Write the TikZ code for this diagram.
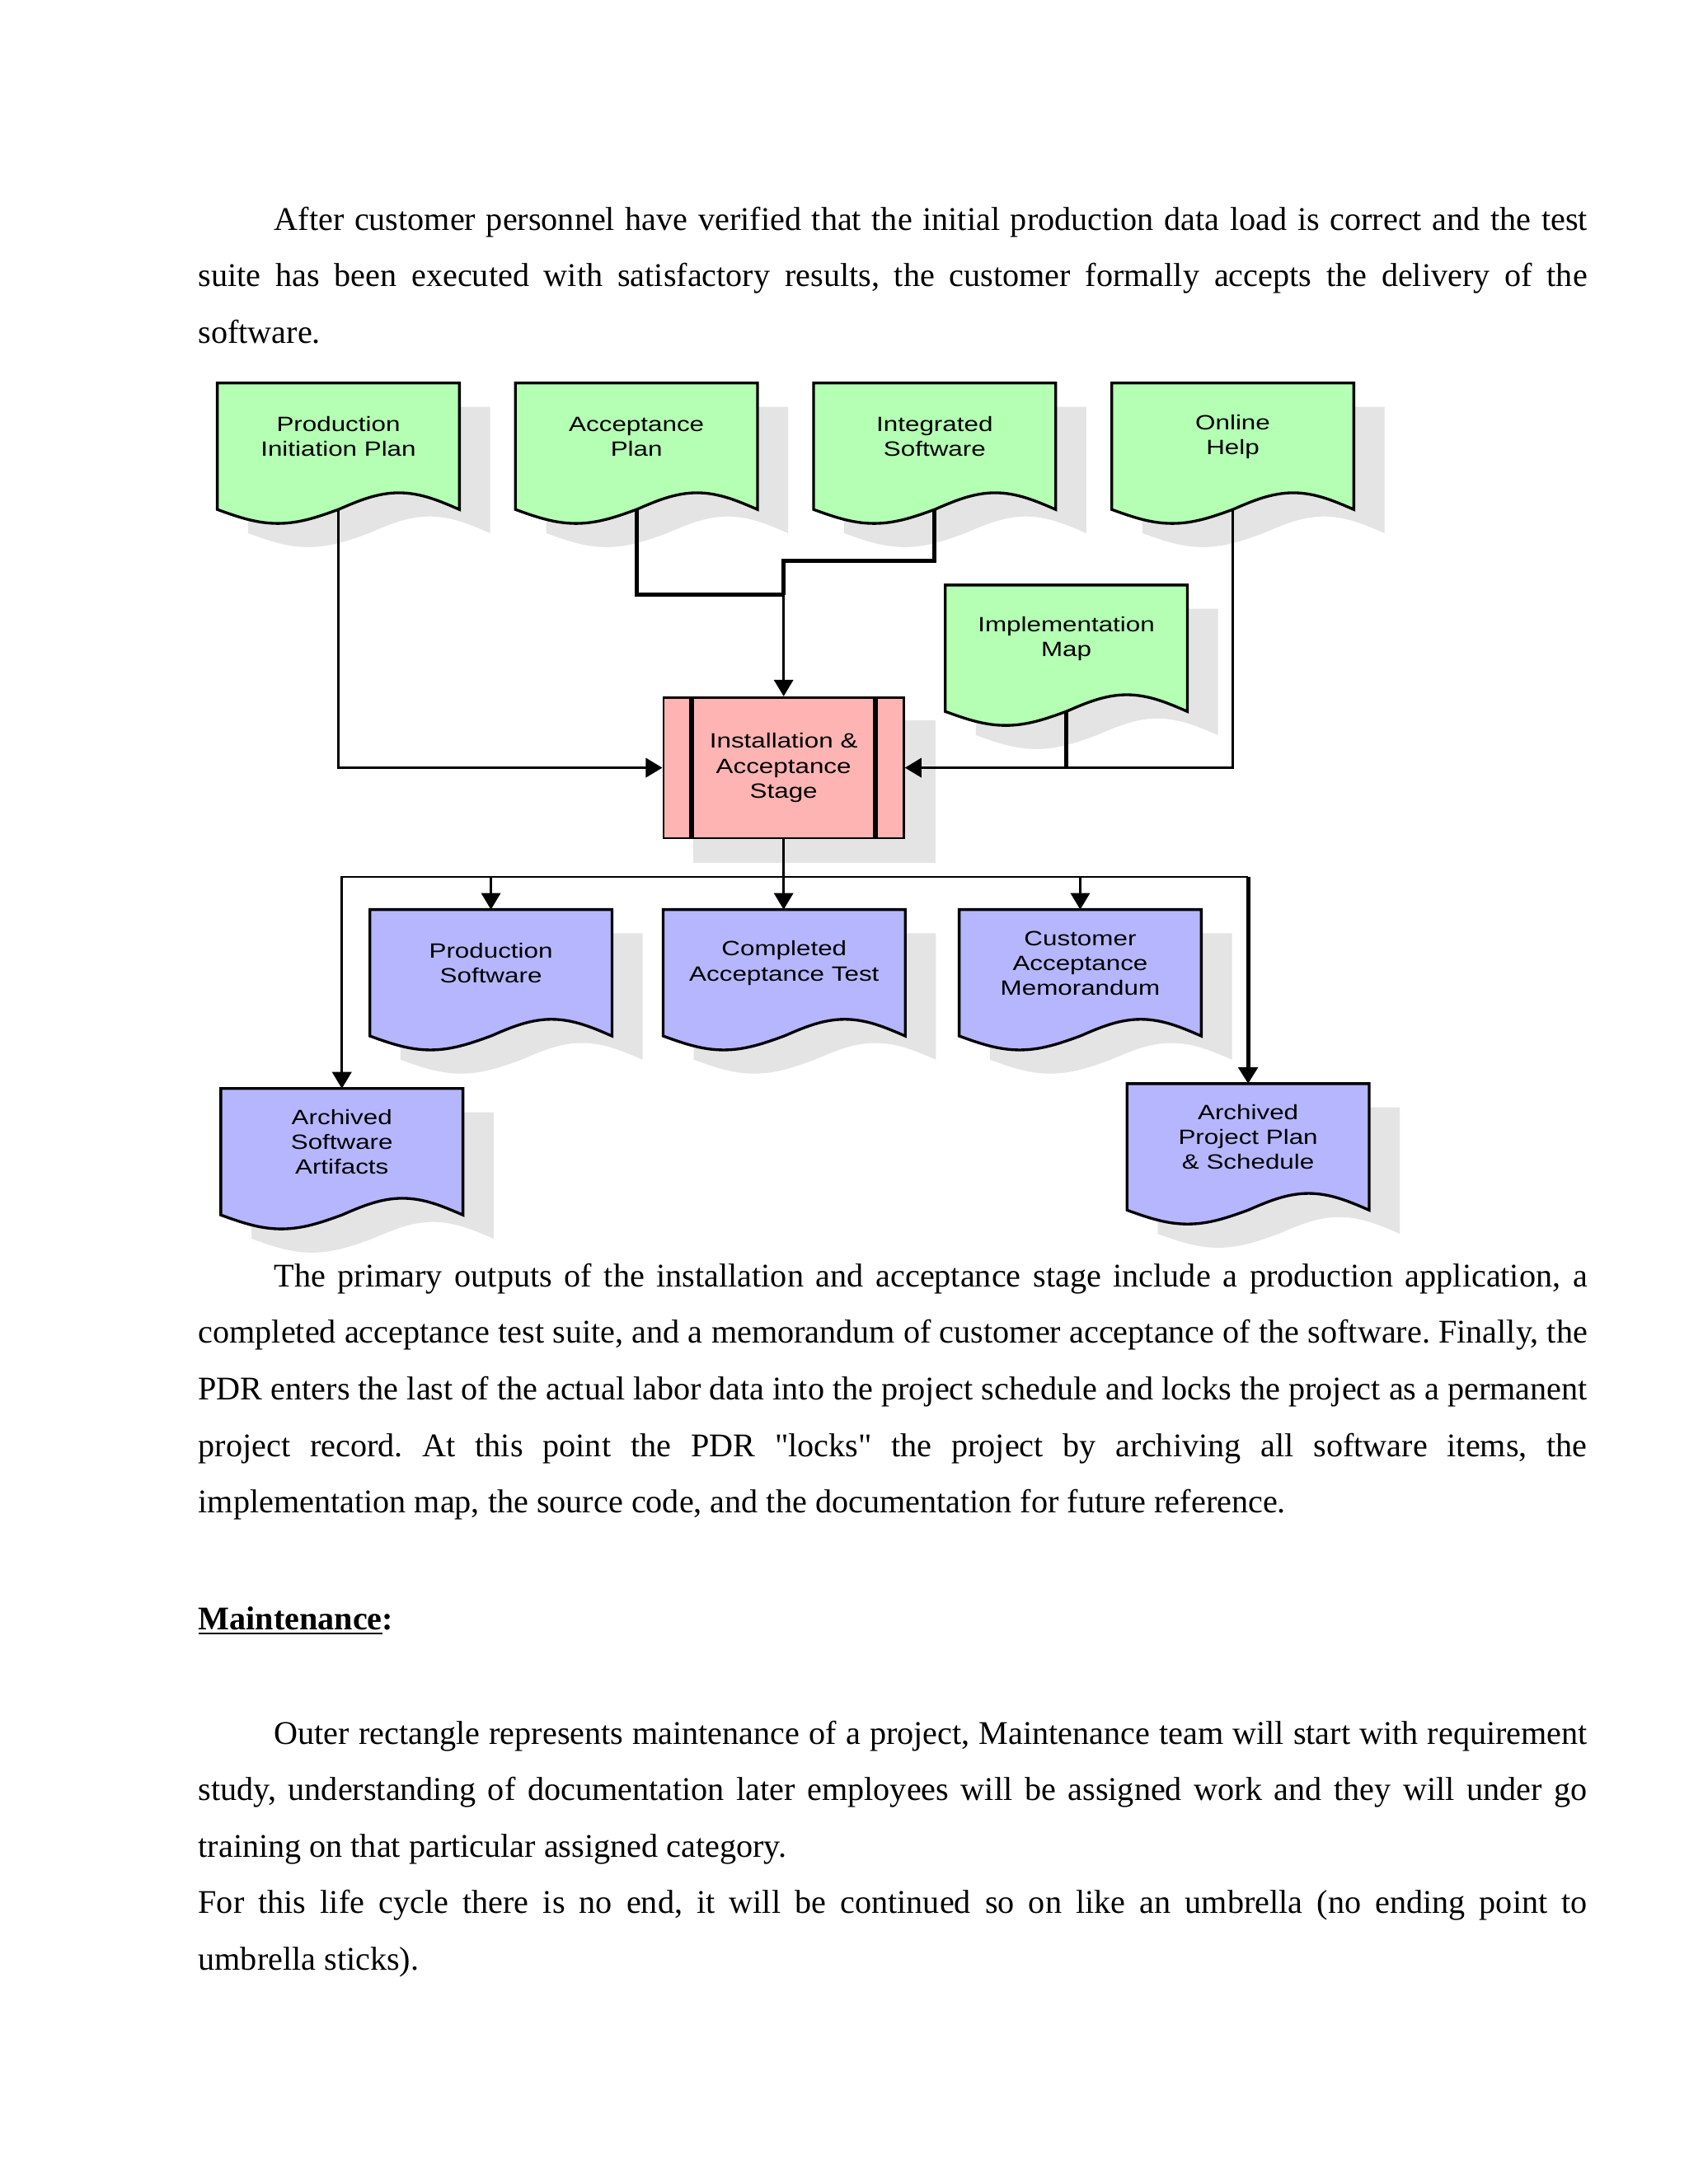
\documentclass[tikz,border=0pt]{standalone}
\usepackage{fontspec}
\setmainfont{Liberation Serif}
\newfontfamily\diagfont[FakeStretch=1.25]{Liberation Sans}
\usepackage{tikz}
\usetikzlibrary{arrows.meta,calc,backgrounds}
\definecolor{docgreen}{RGB}{180,255,180}
\definecolor{docblue}{RGB}{182,182,255}
\definecolor{stagepink}{RGB}{255,180,180}
\definecolor{shadowgray}{RGB}{228,228,228}
\newcommand{\dpx}{0.505pt}
\newcommand{\diagtext}{\diagfont\fontsize{7.5}{9}\selectfont}
\newcommand{\bodytext}{\fontsize{12}{20.5}\selectfont\frenchspacing\tolerance=9999\hyphenpenalty=10000}
\setlength{\parindent}{0pt}

% wavy outline of a document node (drawn below its text area)
\newcommand{\docpath}[2]{%
  \path[#2] (#1.north west) -- (#1.north east) -- ($(#1.south east)+(0,14)$)
    sin ($(#1.south west)!.75!(#1.south east)+(0,2)$) cos ($(#1.south)+(0,14)$)
    sin ($(#1.south west)!.25!(#1.south east)+(0,24)$) cos ($(#1.south west)+(0,14)$) -- cycle;}
\newcommand{\docshape}[2]{%
  \begin{pgfonlayer}{background}
    \docpath{#1}{fill=shadowgray, transform canvas={shift={(22,17)}}}
    \docpath{#1}{draw, line width=1pt, fill=#2}
  \end{pgfonlayer}
  \coordinate (#1-out) at ($(#1.south)+(0,14)$);}

\begin{document}
\begin{tikzpicture}[x=\dpx, y=-\dpx,
  doc/.style={anchor=north west, minimum width=173*\dpx, minimum height=76*\dpx, inner sep=0pt, align=center, font=\diagtext},
  stage/.style={draw, line width=0.8pt, fill=stagepink, minimum width=172.5*\dpx, minimum height=101*\dpx, inner sep=0pt, align=center, font=\diagtext},
  para/.style={anchor=north west, inner sep=0pt, text width=503.5pt, align=justify, font=\bodytext},
  wire/.style={line width=0.75pt},
  thickwire/.style={line width=1.5pt},
  arr/.style={wire, -{Triangle[width=7pt,length=6pt]}},
  thickarr/.style={thickwire, -{Triangle[width=7pt,length=6pt]}}
]
\useasboundingbox (0,0) rectangle (1212,1568);
\begin{pgfonlayer}{background}
  \fill[white] (0,0) rectangle (1212,1568);
\end{pgfonlayer}

% page text
\node[para] (intro) at (142,136.3) {\strut\hspace*{27.5pt}After customer personnel have verified that the initial production data load is correct and the test\linebreak
suite has been executed with satisfactory results, the customer formally accepts the delivery of the\linebreak
software.};
\node[para] (outputs) at (142,895) {\strut\hspace*{27.5pt}The primary outputs of the installation and acceptance stage include a production application, a\linebreak
completed acceptance test suite, and a memorandum of customer acceptance of the software. Finally, the\linebreak
PDR enters the last of the actual labor data into the project schedule and locks the project as a permanent\linebreak
project record. At this point the PDR \textquotedbl locks\textquotedbl{} the project by archiving all software items, the\linebreak
implementation map, the source code, and the documentation for future reference.};
\node[para] (mainthead) at (142,1141) {\strut\textbf{\underline{Maintenance}:}};
\node[para] (maintext) at (142,1223.3) {\strut\hspace*{27.5pt}Outer rectangle represents maintenance of a project, Maintenance team will start with requirement\linebreak
study, understanding of documentation later employees will be assigned work and they will under go\linebreak
training on that particular assigned category.\par
\strut For this life cycle there is no end, it will be continued so on like an umbrella (no ending point to\linebreak
umbrella sticks).};

% inputs
\node[doc] (pip) at (156,275) {Production\\Initiation Plan};
\node[doc] (ap) at (370,275) {Acceptance\\Plan};
\node[doc] (is) at (584,275) {Integrated\\Software};
\node[doc] (oh) at (798,275) {Online\\Help};
\node[doc] (imap) at (678.5,420) {Implementation\\Map};

% stage
\node[stage] (ias) at (562.5,551.2) {Installation \&\\Acceptance\\Stage};
\draw[line width=1.8pt] ($(ias.north west)+(21,0)$) -- ($(ias.south west)+(21,0)$);
\draw[line width=1.8pt] ($(ias.north east)+(-21,0)$) -- ($(ias.south east)+(-21,0)$);
\begin{pgfonlayer}{background}
  \fill[shadowgray] ($(ias.north west)+(22,17)$) rectangle ($(ias.south east)+(22,17)$);
\end{pgfonlayer}

% outputs
\node[doc] (ps) at (265.5,653) {Production\\Software};
\node[doc] (cat) at (476,653) {Completed\\Acceptance Test};
\node[doc] (cam) at (688.5,653) {Customer\\Acceptance\\Memorandum};
\node[doc] (asa) at (158.5,781.5) {Archived\\Software\\Artifacts};
\node[doc] (app) at (809,778) {Archived\\Project Plan\\\& Schedule};

\docshape{pip}{docgreen}
\docshape{ap}{docgreen}
\docshape{is}{docgreen}
\docshape{oh}{docgreen}
\docshape{imap}{docgreen}
\docshape{ps}{docblue}
\docshape{cat}{docblue}
\docshape{cam}{docblue}
\docshape{asa}{docblue}
\docshape{app}{docblue}

% connectors into the stage
\coordinate (join) at ($(ias.north)+(0,-73)$);
\draw[arr] (pip-out) |- (ias.west);
\draw[thickwire] (ap-out) |- (join);
\draw[thickwire] (is-out) |- ($(join)+(0,-24)$) -- (join);
\draw[arr] (join) -- (ias.north);
\draw[arr] (oh-out) |- (ias.east);
\draw[thickwire] (imap-out) -- (imap-out |- ias.east);

% connectors out of the stage
\coordinate (bus) at ($(ias.south)+(0,27)$);
\draw[arr] (ias.south) -- (ias.south |- cat.north);
\draw[arr] (bus) -| (ps.north);
\draw[arr] (bus) -| (asa.north);
\draw[arr] (bus) -| (cam.north);
\draw[wire] (bus) -- (bus -| app.north);
\draw[thickarr] (bus -| app.north) -- (app.north);
\end{tikzpicture}
\end{document}
